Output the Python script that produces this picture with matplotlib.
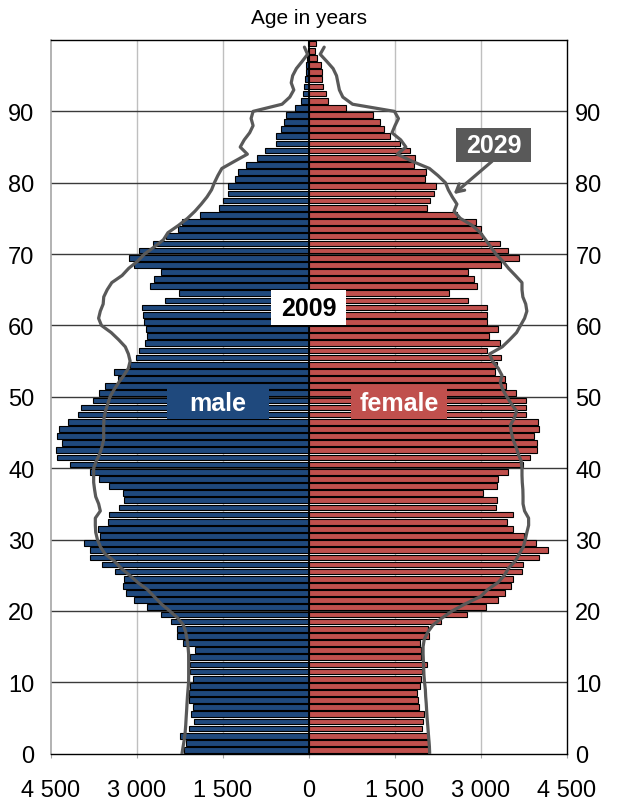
import numpy as np
import matplotlib
matplotlib.use("Agg")
import matplotlib.pyplot as plt
from matplotlib.patches import Rectangle

plt.rcParams['font.family'] = ['Liberation Sans', 'DejaVu Sans']

# ---------------- data ----------------
ages = list(range(100))

male_2009 = [2186, 2151, 2256, 2099, 2000, 2058, 2029, 2093, 2087, 2081,
             2029, 2070, 2070, 2081, 1983, 2198, 2297, 2302, 2401, 2576,
             2820, 3047, 3198, 3250, 3233, 3384, 3616, 3814, 3826, 3930,
             3651, 3686, 3512, 3494, 3314, 3221, 3250, 3494, 3657, 3814,
             4175, 4395, 4407, 4314, 4395, 4366, 4204, 4035, 3971, 3773,
             3657, 3552, 3337, 3401, 3128, 3023, 2959, 2866, 2826, 2837,
             2872, 2890, 2913, 2517, 2262, 2779, 2709, 2576, 3047, 3145,
             2959, 2727, 2494, 2285, 2215, 1907, 1576, 1500, 1419, 1419,
             1297, 1238, 1093, 907, 773, 576, 576, 488, 442, 401,
             245, 140, 100, 85, 72, 60, 50, 34, 15, 12]

female_2009 = [2087, 2087, 2076, 1971, 1983, 2012, 1919, 1901, 1884, 1930,
               1948, 1977, 2052, 1953, 1953, 1942, 2087, 2076, 2297, 2750,
               3087, 3291, 3419, 3529, 3552, 3715, 3733, 4012, 4169, 3953,
               3756, 3552, 3448, 3552, 3267, 3279, 3035, 3285, 3297, 3465,
               3727, 3849, 3971, 3971, 3924, 4006, 4000, 3785, 3791, 3791,
               3605, 3442, 3413, 3250, 3285, 3343, 3105, 3337, 3134, 3291,
               3105, 3105, 3105, 2767, 2442, 2930, 2872, 2767, 3355, 3669,
               3465, 3337, 3023, 2994, 2907, 2581, 2052, 2105, 2186, 2209,
               2017, 2047, 1826, 1843, 1756, 1581, 1419, 1302, 1244, 1110,
               654, 330, 289, 241, 227, 220, 206, 138, 103, 124]

male_2029 = [2215, 2195, 2175, 2160, 2150, 2143, 2135, 2128, 2120, 2110,
             2100, 2099, 2099, 2099, 2100, 2110, 2128, 2150, 2190, 2290,
             2430, 2580, 2700, 2820, 2990, 3130, 3280, 3400, 3560, 3640,
             3690, 3720, 3727, 3727, 3640, 3669, 3720, 3740, 3756, 3756,
             3756, 3710, 3650, 3610, 3581, 3581, 3581, 3575, 3550, 3510,
             3470, 3400, 3320, 3230, 3150, 3120, 3150, 3204, 3320, 3450,
             3620, 3670, 3640, 3590, 3580, 3520, 3440, 3260, 3145, 2990,
             2870, 2700, 2540, 2460, 2280, 2120, 1990, 1880, 1780, 1700,
             1650, 1590, 1520, 1300, 1075, 1200, 1130, 1035, 975, 1010,
             975, 470, 335, 265, 310, 285, 220, 120, 25, 80]

female_2029 = [2105, 2100, 2090, 2080, 2070, 2060, 2052, 2045, 2035, 2029,
               2015, 2005, 2000, 1995, 1990, 1990, 2010, 2070, 2160, 2320,
               2500, 2730, 2990, 3120, 3300, 3410, 3480, 3600, 3670, 3740,
               3773, 3800, 3831, 3830, 3760, 3733, 3733, 3730, 3720, 3715,
               3715, 3700, 3650, 3610, 3560, 3530, 3512, 3580, 3620, 3530,
               3450, 3380, 3337, 3366, 3300, 3200, 3150, 3370, 3500, 3620,
               3690, 3760, 3800, 3780, 3730, 3715, 3715, 3600, 3480, 3380,
               3260, 3170, 3080, 2988, 2850, 2640, 2530, 2580, 2500, 2430,
               2380, 2250, 2100, 1800, 1540, 1690, 1600, 1448, 1500, 1560,
               1490, 760, 590, 530, 505, 480, 420, 310, 195, 265]

xtick_values = [-4500, -3000, -1500, 0, 1500, 3000, 4500]
xtick_labels = ['4 500', '3 000', '1 500', '0', '1 500', '3 000', '4 500']
ytick_values = [0, 10, 20, 30, 40, 50, 60, 70, 80, 90]

# ---------------- style ----------------
BLUE = '#1F497D'
RED = '#C0504D'
GRAY = '#595959'

W, H = 619, 804
fig = plt.figure(figsize=(W / 100, H / 100), dpi=100)
ax_left, ax_right, ax_top, ax_bottom = 51, 567, 41, 754.6
ax = fig.add_axes([ax_left / W, 1 - ax_bottom / H,
                   (ax_right - ax_left) / W, (ax_bottom - ax_top) / H])

y_bar = np.array(ages) + 0.5
ax.barh(y_bar, -np.array(male_2009), height=0.8, color=BLUE,
        edgecolor='black', linewidth=0.8, zorder=2)
ax.barh(y_bar, np.array(female_2009), height=0.8, color=RED,
        edgecolor='black', linewidth=0.8, zorder=2)
ax.axvline(0, color='black', lw=1.3, zorder=3)

ax.plot(-np.array(male_2029), ages, color=GRAY, lw=2.3, zorder=4,
        solid_joinstyle='round', solid_capstyle='round')
ax.plot(np.array(female_2029), ages, color=GRAY, lw=2.3, zorder=4,
        solid_joinstyle='round', solid_capstyle='round')

ax.set_xlim(-4500, 4500)
ax.set_ylim(0, 100)

# grid
for yv in ytick_values[1:]:
    ax.axhline(yv, color='#3A3A3A', lw=1.0, zorder=1)
for xv in [-3000, -1500, 1500, 3000]:
    ax.axvline(xv, color='#BFBFBF', lw=1.0, zorder=0.5)

ax.set_xticks(xtick_values)
ax.set_xticklabels(xtick_labels)
ax.set_yticks(ytick_values)
ax.tick_params(axis='x', labelsize=17, length=3, color='#A6A6A6', pad=15)
ax.tick_params(axis='y', labelsize=17, length=0, pad=12)

# right-hand age labels
ax2 = ax.twinx()
ax2.set_ylim(0, 100)
ax2.set_yticks(ytick_values)
ax2.tick_params(axis='y', labelsize=17, length=0, pad=6)
for s in ax2.spines.values():
    s.set_visible(False)

for side in ['top', 'right', 'bottom']:
    ax.spines[side].set_color('black')
    ax.spines[side].set_linewidth(1.0)
ax.spines['left'].set_color('#A6A6A6')
ax.spines['left'].set_linewidth(1.2)

fig.text(309 / W, 1 - 19 / H, 'Age in years', ha='center', va='center',
         fontsize=15)

# label boxes
px_x = 9000 / (ax_right - ax_left)
px_y = 100 / (ax_bottom - ax_top)


def box_label(cx, cy, w_px, h_px, text, fc, tc):
    w = w_px * px_x
    h = h_px * px_y
    ax.add_patch(Rectangle((cx - w / 2, cy - h / 2), w, h, facecolor=fc,
                           edgecolor='none', zorder=6))
    ax.text(cx, cy, text, ha='center', va='center', color=tc,
            fontsize=18, fontweight='bold', zorder=7)


box_label(-1590, 49.1, 102, 32, 'male', BLUE, 'white')
box_label(1575, 49.1, 96, 32, 'female', RED, 'white')
box_label(-10, 62.5, 75, 35, '2009', 'white', 'black')
box_label(3220, 85.3, 75, 34, '2029', GRAY, 'white')

ax.annotate('', xy=(2522, 78.4), xytext=(3192, 83.0),
            arrowprops=dict(arrowstyle='->,head_length=0.55,head_width=0.3',
                            color=GRAY, lw=2.3, shrinkA=0, shrinkB=0),
            zorder=6)

fig.savefig('out.png', dpi=100)
